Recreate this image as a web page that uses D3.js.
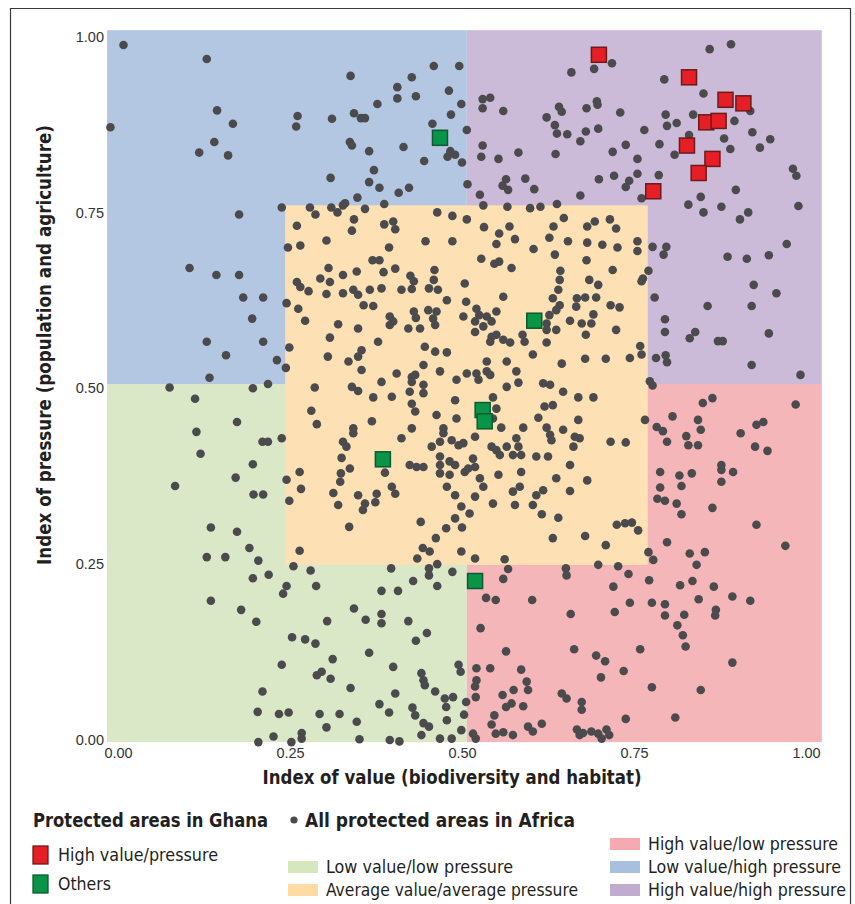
<!DOCTYPE html>
<html><head><meta charset="utf-8">
<script src="https://cdn.jsdelivr.net/npm/d3@7"></script>
<style>
body{margin:0;background:#fff;}
svg{display:block;}
</style></head><body>
<svg id="chart" width="855" height="904"></svg>
<script>
// ---------- data ----------
const xTicks = [0, 0.25, 0.5, 0.75, 1];
const yTicks = [0, 0.25, 0.5, 0.75, 1];
const xTitle = "Index of value (biodiversity and habitat)";
const yTitle = "Index of pressure (population and agriculture)";
const extentValue = [-0.016, 1.023];
const extentPressure = [-0.003, 1.009];
const splitValue = 0.507;
const splitPressure = 0.506;
const averageValue = [0.243, 0.770];
const averagePressure = [0.249, 0.760];

const zoneNames = ["Low value/low pressure", "High value/low pressure", "Low value/high pressure",
  "High value/high pressure", "Average value/average pressure"];
const ghanaNames = ["High value/pressure", "Others"];

// Ghana protected areas [value, pressure]
const ghanaHigh = [[0.699,0.974],[0.830,0.942],[0.883,0.910],[0.909,0.905],[0.855,0.878],[0.873,0.880],
  [0.827,0.845],[0.864,0.826],[0.844,0.806],[0.778,0.780]];
const ghanaOthers = [[0.468,0.856],[0.605,0.596],[0.530,0.469],[0.533,0.453],[0.385,0.399],[0.519,0.226]];

// All protected areas in Africa [value, pressure]
const africa = [
[0.008,0.988],[0.129,0.968],[0.144,0.895],[0.261,0.887],[0.311,0.883],[-0.011,0.871],[0.167,0.876],[0.259,0.872],[0.140,0.850],[0.118,0.835],[0.160,0.831],[0.309,0.799],[0.176,0.747],[0.238,0.757],[0.279,0.757],[0.287,0.747],[0.310,0.757],[0.319,0.750],[0.327,0.760],[0.260,0.731],[0.247,0.700],[0.265,0.703],[0.303,0.710],[0.306,0.671],[0.104,0.671],
[0.459,0.958],[0.496,0.958],[0.338,0.944],[0.427,0.942],[0.406,0.928],[0.406,0.912],[0.433,0.915],[0.481,0.923],[0.377,0.904],[0.499,0.904],[0.343,0.891],[0.353,0.884],[0.359,0.884],[0.484,0.889],[0.457,0.876],[0.507,0.867],[0.337,0.850],[0.340,0.845],[0.365,0.837],[0.415,0.843],[0.483,0.837],[0.479,0.829],[0.490,0.832],[0.500,0.821],[0.445,0.823],[0.372,0.810],[0.365,0.793],[0.380,0.785],[0.408,0.778],[0.423,0.785],[0.508,0.790],[0.348,0.771],[0.330,0.763],[0.387,0.762],[0.359,0.755],
[0.530,0.911],[0.541,0.913],[0.530,0.898],[0.560,0.894],[0.659,0.949],[0.641,0.900],[0.645,0.893],[0.623,0.885],[0.635,0.874],[0.638,0.862],[0.653,0.861],[0.672,0.851],[0.530,0.845],[0.528,0.829],[0.553,0.826],[0.582,0.835],[0.636,0.833],[0.592,0.798],[0.564,0.797],[0.559,0.788],[0.567,0.782],[0.605,0.783],[0.526,0.775],[0.672,0.774],[0.531,0.760],[0.566,0.758],[0.599,0.756],[0.614,0.758],[0.638,0.762],
[0.464,0.750],[0.486,0.745],[0.507,0.740],[0.343,0.740],[0.340,0.724],[0.387,0.733],[0.400,0.737],[0.403,0.726],[0.447,0.709],[0.486,0.709],[0.394,0.700],[0.370,0.682],[0.380,0.682],[0.532,0.729],[0.554,0.720],[0.569,0.730],[0.577,0.712],[0.550,0.705],[0.604,0.698],[0.627,0.714],[0.633,0.730],[0.648,0.742],[0.654,0.709],[0.635,0.690],[0.528,0.684],[0.547,0.677],[0.554,0.680],
[0.692,0.954],[0.718,0.962],[0.860,0.982],[0.891,0.989],[0.794,0.939],[0.851,0.919],[0.681,0.898],[0.696,0.908],[0.697,0.903],[0.730,0.892],[0.796,0.889],[0.836,0.889],[0.798,0.873],[0.812,0.877],[0.919,0.894],[0.896,0.880],[0.680,0.865],[0.698,0.869],[0.765,0.867],[0.787,0.847],[0.830,0.860],[0.881,0.855],[0.922,0.864],[0.948,0.854],[0.933,0.842],[0.890,0.840],[0.738,0.846],[0.719,0.836],[0.755,0.826],[0.809,0.832],[0.721,0.802],[0.755,0.805],[0.786,0.803],[0.699,0.797],[0.743,0.795],[0.738,0.786],[0.761,0.770],[0.898,0.782],[0.847,0.772],[0.829,0.761],[0.851,0.750],[0.877,0.758],[0.904,0.740],[0.916,0.750],[0.981,0.812],[0.986,0.802],[0.989,0.759],[0.972,0.705],[0.886,0.687],[0.914,0.684],[0.946,0.689],[0.797,0.701],[0.793,0.690],[0.777,0.701],
[0.682,0.730],[0.693,0.737],[0.715,0.740],[0.724,0.727],[0.682,0.707],[0.704,0.704],[0.726,0.700],[0.755,0.709],[0.755,0.695],[0.681,0.682],
[0.143,0.661],[0.176,0.661],[0.182,0.629],[0.211,0.629],[0.195,0.599],[0.129,0.566],[0.211,0.566],[0.157,0.547],[0.231,0.540],[0.244,0.529],[0.133,0.515],[0.075,0.501],[0.196,0.500],[0.218,0.506],[0.112,0.485],[0.173,0.452],[0.114,0.438],[0.120,0.407],[0.210,0.424],[0.218,0.424],[0.238,0.429],[0.196,0.392],[0.171,0.373],[0.083,0.361],[0.197,0.349],[0.211,0.349],[0.245,0.370],[0.264,0.381],[0.266,0.357],[0.249,0.340],
[0.260,0.651],[0.265,0.644],[0.277,0.638],[0.294,0.656],[0.308,0.651],[0.327,0.661],[0.303,0.634],[0.327,0.635],[0.245,0.621],[0.262,0.613],[0.272,0.596],[0.320,0.591],[0.308,0.572],[0.249,0.558],[0.305,0.545],[0.286,0.501],[0.281,0.468],[0.289,0.449],[0.327,0.424],[0.325,0.401],[0.324,0.379],[0.323,0.367],[0.313,0.351],[0.320,0.334],
[0.347,0.666],[0.386,0.665],[0.403,0.670],[0.425,0.660],[0.460,0.668],[0.459,0.654],[0.504,0.649],[0.572,0.671],[0.643,0.667],
[0.342,0.640],[0.349,0.633],[0.366,0.640],[0.383,0.642],[0.412,0.640],[0.430,0.652],[0.427,0.641],[0.452,0.642],[0.465,0.640],[0.478,0.625],[0.560,0.630],[0.642,0.654],[0.640,0.640],[0.632,0.628],[0.667,0.628],
[0.357,0.618],[0.371,0.617],[0.395,0.602],[0.400,0.595],[0.430,0.609],[0.433,0.600],[0.451,0.611],[0.463,0.609],[0.458,0.599],[0.506,0.623],[0.521,0.613],[0.525,0.604],[0.536,0.602],[0.550,0.609],[0.642,0.618],[0.637,0.611],[0.627,0.604],[0.666,0.616],
[0.349,0.585],[0.395,0.590],[0.422,0.585],[0.439,0.585],[0.461,0.590],[0.502,0.602],[0.519,0.595],[0.519,0.580],[0.531,0.588],[0.543,0.595],[0.623,0.592],[0.623,0.583],[0.637,0.583],[0.657,0.596],[0.674,0.592],
[0.378,0.566],[0.543,0.573],[0.550,0.576],[0.560,0.569],[0.570,0.565],[0.588,0.576],[0.591,0.566],[0.623,0.565],[0.541,0.566],[0.446,0.559],[0.461,0.552],[0.478,0.551],[0.603,0.548],
[0.354,0.554],[0.349,0.545],[0.335,0.538],[0.444,0.533],[0.536,0.538],[0.565,0.538],[0.645,0.535],
[0.354,0.526],[0.405,0.521],[0.427,0.516],[0.432,0.519],[0.468,0.524],[0.492,0.512],[0.507,0.521],[0.521,0.521],[0.524,0.512],[0.536,0.524],[0.541,0.519],[0.579,0.524],[0.582,0.508],[0.383,0.509],[0.427,0.509],
[0.340,0.502],[0.349,0.496],[0.371,0.487],[0.398,0.488],[0.424,0.495],[0.444,0.505],[0.444,0.493],[0.490,0.483],[0.565,0.502],[0.618,0.507],[0.628,0.505],[0.647,0.495],[0.669,0.487],
[0.427,0.478],[0.432,0.467],[0.463,0.462],[0.545,0.487],[0.550,0.471],[0.545,0.457],[0.492,0.457],[0.611,0.458],[0.620,0.474],[0.632,0.476],[0.669,0.455],
[0.369,0.453],[0.342,0.443],[0.342,0.436],[0.427,0.443],[0.473,0.443],[0.473,0.436],[0.557,0.444],[0.589,0.444],[0.623,0.444],[0.647,0.441],[0.664,0.431],
[0.332,0.417],[0.412,0.429],[0.456,0.417],[0.468,0.424],[0.485,0.426],[0.495,0.419],[0.502,0.422],[0.519,0.431],[0.543,0.417],[0.550,0.412],[0.565,0.417],[0.579,0.429],[0.582,0.417],[0.628,0.434],[0.630,0.426],[0.662,0.417],[0.671,0.429],
[0.424,0.391],[0.434,0.388],[0.444,0.388],[0.468,0.403],[0.468,0.391],[0.482,0.396],[0.490,0.391],[0.516,0.400],[0.519,0.388],[0.555,0.405],[0.574,0.405],[0.586,0.405],[0.608,0.403],[0.625,0.403],[0.657,0.391],
[0.337,0.386],[0.388,0.380],[0.468,0.379],[0.482,0.377],[0.504,0.381],[0.509,0.386],[0.526,0.372],[0.553,0.377],[0.586,0.381],[0.637,0.372],
[0.349,0.348],[0.376,0.350],[0.398,0.360],[0.403,0.350],[0.478,0.360],[0.490,0.348],[0.519,0.346],[0.531,0.360],[0.574,0.353],[0.584,0.360],[0.608,0.348],[0.618,0.355],[0.657,0.354],
[0.359,0.336],[0.374,0.338],[0.499,0.332],[0.545,0.336],[0.577,0.334],[0.603,0.334],
[0.719,0.668],[0.771,0.667],[0.763,0.656],[0.761,0.652],[0.685,0.654],[0.698,0.647],[0.679,0.629],[0.695,0.629],[0.716,0.618],[0.729,0.615],[0.691,0.605],[0.688,0.592],[0.680,0.576],[0.724,0.583],[0.759,0.560],[0.761,0.548],[0.679,0.542],[0.709,0.542],[0.744,0.543],[0.691,0.487],[0.716,0.424],[0.738,0.423],[0.682,0.369],[0.766,0.455],
[0.780,0.629],[0.795,0.598],[0.795,0.580],[0.782,0.543],[0.796,0.547],[0.798,0.537],[0.773,0.510],[0.777,0.504],[0.839,0.580],[0.831,0.571],[0.857,0.617],[0.872,0.567],[0.879,0.567],[0.924,0.647],[0.957,0.635],[0.921,0.617],[0.946,0.578],[0.921,0.533],[0.992,0.519],
[0.864,0.486],[0.850,0.479],[0.985,0.477],[0.806,0.460],[0.783,0.445],[0.792,0.439],[0.843,0.455],[0.847,0.441],[0.798,0.424],[0.826,0.432],[0.829,0.419],[0.843,0.419],[0.905,0.436],[0.928,0.448],[0.938,0.452],[0.926,0.417],[0.944,0.411],[0.788,0.381],[0.816,0.376],[0.834,0.379],[0.819,0.361],[0.788,0.359],[0.877,0.391],[0.877,0.384],[0.894,0.381],[0.877,0.367],[0.784,0.343],[0.795,0.340],[0.812,0.336],[0.864,0.330],
[0.135,0.302],[0.173,0.296],[0.191,0.273],[0.129,0.260],[0.156,0.260],[0.204,0.255],[0.196,0.230],[0.219,0.235],[0.245,0.219],[0.240,0.208],[0.288,0.219],[0.280,0.241],[0.255,0.247],[0.264,0.269],[0.135,0.198],[0.179,0.185],[0.201,0.168],[0.304,0.169],[0.253,0.146],[0.272,0.143],[0.287,0.137],[0.312,0.115],[0.238,0.107],[0.289,0.092],[0.296,0.097],[0.309,0.087],[0.210,0.069],[0.203,0.040],[0.234,0.037],[0.248,0.039],[0.293,0.037],[0.322,0.037],[0.303,0.018],[0.226,0.005],[0.267,0.010],[0.204,-0.003],[0.252,-0.003],[0.267,0.002],
[0.356,0.327],[0.336,0.303],[0.440,0.310],[0.490,0.315],[0.511,0.322],[0.477,0.301],[0.500,0.302],[0.462,0.287],[0.443,0.273],[0.453,0.268],[0.435,0.258],[0.499,0.268],[0.519,0.258],[0.562,0.257],[0.616,0.321],[0.640,0.316],[0.632,0.287],
[0.397,0.244],[0.452,0.244],[0.464,0.250],[0.452,0.234],[0.486,0.239],[0.429,0.226],[0.464,0.219],[0.383,0.212],[0.407,0.212],[0.343,0.187],[0.383,0.179],[0.383,0.166],[0.360,0.171],[0.422,0.169],[0.449,0.152],[0.433,0.141],[0.365,0.124],[0.400,0.104],[0.441,0.095],[0.444,0.085],[0.446,0.078],[0.495,0.107],[0.498,0.097],[0.338,0.074],[0.403,0.066],[0.461,0.069],[0.380,0.051],[0.394,0.039],[0.428,0.046],[0.432,0.035],[0.475,0.059],[0.487,0.061],[0.477,0.047],[0.506,0.054],[0.503,0.036],[0.478,0.028],[0.444,0.024],[0.452,0.019],[0.347,0.026],[0.441,0.007],[0.468,0.002],[0.351,0.001],[0.395,0.000],[0.409,-0.002],[0.485,0.002],[0.499,0.014],
[0.535,0.202],[0.549,0.199],[0.560,0.229],[0.567,0.243],[0.602,0.199],[0.651,0.244],[0.652,0.234],[0.658,0.179],[0.527,0.159],[0.564,0.126],[0.663,0.129],[0.521,0.102],[0.541,0.102],[0.586,0.100],[0.521,0.085],[0.519,0.076],[0.520,0.061],[0.575,0.071],[0.594,0.083],[0.596,0.071],[0.559,0.064],[0.572,0.052],[0.564,0.047],[0.589,0.048],[0.645,0.066],[0.652,0.059],[0.674,0.054],[0.674,0.043],[0.547,0.035],[0.543,0.022],[0.549,0.009],[0.560,0.011],[0.516,0.009],[0.520,0.002],[0.574,0.007],[0.596,0.019],[0.603,0.012],[0.616,0.023],[0.667,0.015],[0.671,0.007],
[0.819,0.321],[0.679,0.290],[0.709,0.277],[0.725,0.306],[0.737,0.308],[0.747,0.309],[0.756,0.298],[0.928,0.306],[0.970,0.276],[0.798,0.281],[0.771,0.267],[0.778,0.256],[0.831,0.265],[0.853,0.267],[0.841,0.249],[0.698,0.249],[0.727,0.247],[0.742,0.236],[0.772,0.227],[0.720,0.218],[0.817,0.220],[0.835,0.226],[0.866,0.218],[0.844,0.200],[0.893,0.204],[0.919,0.198],[0.744,0.195],[0.776,0.195],[0.795,0.193],[0.722,0.182],[0.795,0.177],[0.823,0.178],[0.869,0.185],[0.868,0.177],[0.813,0.163],[0.821,0.149],[0.825,0.133],[0.759,0.129],[0.695,0.120],[0.708,0.112],[0.702,0.089],[0.735,0.098],[0.776,0.075],[0.893,0.110],[0.847,0.071],[0.738,0.030],[0.810,0.032],[0.676,0.010],[0.688,0.012],[0.698,0.009],[0.710,0.015],[0.714,0.007],[0.703,0.002]
];

// ---------- styles ----------
const zoneFill = {"Low value/low pressure":"#dbe8c8","High value/low pressure":"#f5b6b9",
  "Low value/high pressure":"#b4c7e2","High value/high pressure":"#cbbad8","Average value/average pressure":"#fde1b4"};
const zoneSwatch = {"Low value/low pressure":"#d6e7bd","High value/low pressure":"#f4aab0",
  "Low value/high pressure":"#a7c0e0","High value/high pressure":"#c1abcf","Average value/average pressure":"#fddba2"};
const condensed = "'Liberation Sans Narrow','DejaVu Sans Condensed','Roboto',sans-serif";
const tickFont = "'Liberation Sans','Arimo',sans-serif";

const svg = d3.select("#chart");
const x = d3.scaleLinear().domain([0, 1]).range([118, 806]);
const y = d3.scaleLinear().domain([0, 1]).range([740, 36.5]);

// frame
svg.append("path").attr("d", "M10.5,912V8.5H850.5V912").attr("fill", "none")
  .attr("stroke", "#3a3a3a").attr("stroke-width", 1.2);

// zones
const zones = [
  {name:"Low value/low pressure", x:[extentValue[0], splitValue], y:[extentPressure[0], splitPressure]},
  {name:"High value/low pressure", x:[splitValue, extentValue[1]], y:[extentPressure[0], splitPressure]},
  {name:"Low value/high pressure", x:[extentValue[0], splitValue], y:[splitPressure, extentPressure[1]]},
  {name:"High value/high pressure", x:[splitValue, extentValue[1]], y:[splitPressure, extentPressure[1]]},
  {name:"Average value/average pressure", x:averageValue, y:averagePressure}
];
svg.append("g").selectAll("rect").data(zones).join("rect")
  .attr("x", d => x(d.x[0])).attr("width", d => x(d.x[1]) - x(d.x[0]))
  .attr("y", d => y(d.y[1])).attr("height", d => y(d.y[0]) - y(d.y[1]))
  .attr("fill", d => zoneFill[d.name]);

// axes
const xAxis = svg.append("g").attr("transform", "translate(0,745)")
  .call(d3.axisBottom(x).tickValues(xTicks).tickFormat(d3.format(".2f")).tickSize(0).tickPadding(3));
const yAxis = svg.append("g").attr("transform", "translate(106,0)")
  .call(d3.axisLeft(y).tickValues(yTicks).tickFormat(d3.format(".2f")).tickSize(0).tickPadding(2));
[xAxis, yAxis].forEach(a => {
  a.select(".domain").remove();
  a.selectAll("text").attr("font-family", tickFont).attr("font-size", 14.5).attr("fill", "#333");
});

// axis titles
svg.append("text").attr("x", 452).attr("y", 784).attr("text-anchor", "middle")
  .attr("font-family", condensed).attr("font-weight", "bold").attr("font-size", 20).attr("fill", "#231f20")
  .attr("textLength", 379).attr("lengthAdjust", "spacingAndGlyphs").text(xTitle);
svg.append("text").attr("transform", "translate(51,345) rotate(-90)").attr("text-anchor", "middle")
  .attr("font-family", condensed).attr("font-weight", "bold").attr("font-size", 20).attr("fill", "#231f20")
  .attr("textLength", 440).attr("lengthAdjust", "spacingAndGlyphs").text(yTitle);

// points
svg.append("g").selectAll("circle").data(africa).join("circle")
  .attr("cx", d => x(d[0])).attr("cy", d => y(d[1])).attr("r", 4.3)
  .attr("fill", "#4b4b4d");

// Ghana squares
const sq = 15;
function squares(data, fill, stroke) {
  svg.append("g").selectAll("rect").data(data).join("rect")
    .attr("x", d => x(d[0]) - sq / 2).attr("y", d => y(d[1]) - sq / 2)
    .attr("width", sq).attr("height", sq)
    .attr("fill", fill).attr("stroke", stroke).attr("stroke-width", 1.5);
}
squares(ghanaOthers, "#0a9447", "#0d5a32");
squares(ghanaHigh, "#e61f27", "#6b1b1b");

// legend
const lg = svg.append("g").attr("font-family", condensed).attr("fill", "#231f20");
function label(tx, ty, str, len, size, bold) {
  lg.append("text").attr("x", tx).attr("y", ty).attr("font-size", size)
    .attr("font-weight", bold ? "bold" : "normal")
    .attr("textLength", len).attr("lengthAdjust", "spacingAndGlyphs").text(str);
}
label(33, 827, "Protected areas in Ghana", 235, 19.5, true);
lg.append("circle").attr("cx", 294).attr("cy", 820).attr("r", 3.6).attr("fill", "#4b4b4d");
label(305, 827, "All protected areas in Africa", 270, 19.5, true);

const ghanaLegend = [{fill:"#e61f27", stroke:"#6b1b1b", len:160}, {fill:"#0a9447", stroke:"#0d5a32", len:53}];
ghanaNames.forEach((n, i) => {
  const cy = 855 + i * 29;
  lg.append("rect").attr("x", 33).attr("y", cy - 9).attr("width", 15).attr("height", 18)
    .attr("fill", ghanaLegend[i].fill).attr("stroke", ghanaLegend[i].stroke).attr("stroke-width", 1.3);
  label(58, cy + 6, n, ghanaLegend[i].len, 17);
});

const zoneLegend = [
  {name:"Low value/low pressure", lx:288, cy:867, len:187},
  {name:"Average value/average pressure", lx:288, cy:890, len:252},
  {name:"High value/low pressure", lx:610, cy:844, len:190},
  {name:"Low value/high pressure", lx:610, cy:867, len:193},
  {name:"High value/high pressure", lx:610, cy:890, len:198}
];
zoneLegend.forEach(z => {
  lg.append("rect").attr("x", z.lx).attr("y", z.cy - 6).attr("width", 30).attr("height", 12)
    .attr("fill", zoneSwatch[z.name]);
  label(z.lx + 38, z.cy + 6, z.name, z.len, 17);
});
</script>
</body></html>
